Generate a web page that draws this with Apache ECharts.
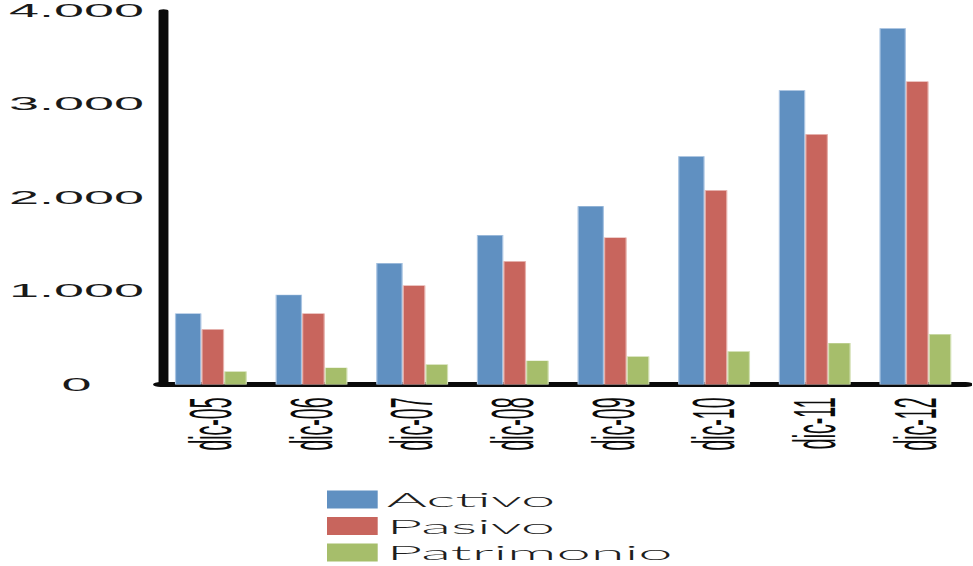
<!DOCTYPE html>
<html>
<head>
<meta charset="utf-8">
<script src="https://cdn.jsdelivr.net/npm/echarts@6/dist/echarts.min.js"></script>
<style>
  html, body { margin: 0; padding: 0; background: #fff; overflow: hidden; }
  /* The chart is laid out on a narrow canvas and widened 3x, giving the stretched look. */
  #main { width: 324.33px; height: 620px; transform: scaleX(3); transform-origin: 0 0; }
</style>
</head>
<body>
<div id="main"></div>
<script>
// Categories (year-end dates)
const categories = ['dic-05', 'dic-06', 'dic-07', 'dic-08', 'dic-09', 'dic-10', 'dic-11', 'dic-12'];
// Balance sheet figures
const activo = [760, 960, 1300, 1600, 1910, 2445, 3150, 3815];
const pasivo = [590, 760, 1060, 1320, 1575, 2080, 2680, 3245];
const patrimonio = [140, 180, 215, 255, 300, 355, 445, 540];
// Value axis
const yMin = 0;
const yMax = 4000;
const yStep = 1000;

const FONT = "'Liberation Sans', Arial, sans-serif";
const LIGHT_FONT = "Lato, 'Liberation Sans', Arial, sans-serif";

function thousands(v) {
  return String(v).replace(/\B(?=(\d{3})+(?!\d))/g, '.');
}

const chart = echarts.init(document.getElementById('main'), null, { renderer: 'svg' });

const barSeries = (name, data, color, border, width) => ({
  name: name,
  type: 'bar',
  data: data,
  barWidth: width,
  barGap: '0%',
  itemStyle: { color: color, borderColor: border, borderWidth: 0.4 },
  emphasis: { disabled: true }
});

chart.setOption({
  animation: false,
  backgroundColor: '#ffffff',
  grid: { left: 52.3, right: 2.1, top: 11, bottom: 235.5, containLabel: false },
  legend: {
    orient: 'vertical',
    left: 109,
    top: 489,
    padding: 0,
    itemWidth: 16.9,
    itemHeight: 18,
    itemGap: 5.5,
    icon: 'rect',
    selectedMode: false,
    itemStyle: { borderWidth: 0 },
    textStyle: {
      fontFamily: LIGHT_FONT,
      fontWeight: 300,
      fontSize: 20.5,
      lineHeight: 20,
      color: '#1e1e1e',
      padding: [0, 0, 0, -2]
    },
    data: ['Activo', 'Pasivo', 'Patrimonio']
  },
  xAxis: {
    type: 'category',
    data: categories,
    axisLine: { lineStyle: { color: '#0a0a0a', width: 5 } },
    axisTick: { show: false },
    axisLabel: {
      rotate: 90,
      margin: 13,
      fontFamily: FONT,
      fontSize: 19.5,
      color: '#0a0a0a',
      interval: 0
    }
  },
  yAxis: {
    type: 'value',
    min: yMin,
    max: yMax,
    interval: yStep,
    offset: -1,
    splitLine: { show: false },
    axisTick: { show: false },
    axisLine: { show: true, lineStyle: { color: '#0a0a0a', width: 3.3 } },
    axisLabel: {
      align: 'center',
      margin: 29,
      fontFamily: FONT,
      fontSize: 18,
      color: '#1a1a1a',
      formatter: thousands
    }
  },
  series: [
    barSeries('Activo', activo, '#6090c1', '#a9c4e2', 8.83),
    barSeries('Pasivo', pasivo, '#c8655d', '#e6b0ab', 7.57),
    barSeries('Patrimonio', patrimonio, '#a6be6b', '#d2e0b3', 7.57)
  ]
});
</script>
</body>
</html>
